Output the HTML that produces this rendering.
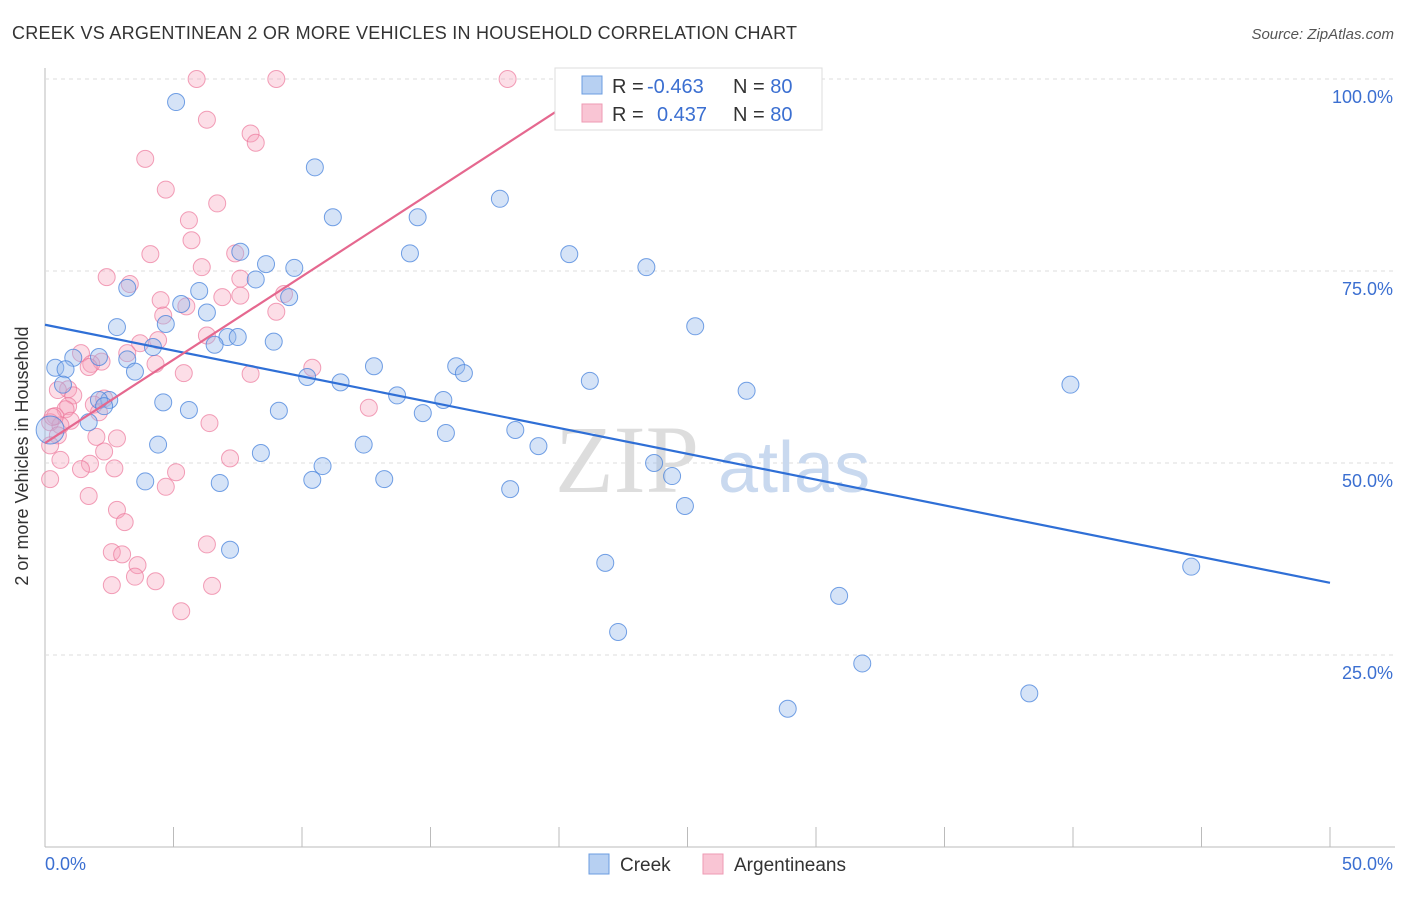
<!DOCTYPE html>
<html><head><meta charset="utf-8"><style>
body{margin:0;background:#fff;font-family:"Liberation Sans",sans-serif;}
</style></head><body>
<svg id="c" width="1406" height="892" xmlns="http://www.w3.org/2000/svg">
<text x="12" y="39" font-size="18" fill="#333" textLength="785">CREEK VS ARGENTINEAN 2 OR MORE VEHICLES IN HOUSEHOLD CORRELATION CHART</text>
<text x="1394" y="39" font-size="15" fill="#555" font-style="italic" text-anchor="end">Source: ZipAtlas.com</text>
<g id="grid"></g>
<text x="555" y="492" font-size="96" fill="#ddd" font-family="Liberation Serif,serif">ZIP</text>
<text x="718" y="492" font-size="72" fill="#c9d9ef">atlas</text>
<g id="pts"></g>
<g id="lines"></g>
<text x="28" y="456" font-size="18" fill="#333" text-anchor="middle" transform="rotate(-90 28 456)">2 or more Vehicles in Household</text>
<g>
<rect x="555" y="68" width="267" height="62" fill="#fff" stroke="#ddd"/>
<rect x="582" y="76" width="20" height="18" fill="#b7d0f2" stroke="#6b9ce0"/>
<rect x="582" y="104" width="20" height="18" fill="#f9c5d4" stroke="#ee9ab3"/>
<text x="612" y="93" font-size="20" fill="#333">R = <tspan x="647" fill="#3b6fd1">-0.463</tspan><tspan x="733">N = </tspan><tspan fill="#3b6fd1">80</tspan></text>
<text x="612" y="121" font-size="20" fill="#333">R = <tspan x="657" fill="#3b6fd1">0.437</tspan><tspan x="733">N = </tspan><tspan fill="#3b6fd1">80</tspan></text>
</g>
<g>
<rect x="589" y="854" width="20" height="20" fill="#b7d0f2" stroke="#6b9ce0"/>
<text x="620" y="871" font-size="19" fill="#333">Creek</text>
<rect x="703" y="854" width="20" height="20" fill="#f9c5d4" stroke="#ee9ab3"/>
<text x="734" y="871" font-size="19" fill="#333">Argentineans</text>
</g>
</svg>
<script>
const xTicks=[0,5,10,15,20,25,30,35,40,45,50];
const yTicks=[25,50,75,100];
const yTickLabels=["25.0%","50.0%","75.0%","100.0%"];
const creekX=[5.1,10.5,17.7,11.2,14.5,14.2,20.4,23.4,8.6,9.7,7.6,8.2,3.2,9.5,5.3,6.0,6.3,4.7,2.8,25.3,7.1,7.5,6.6,8.9,4.2,3.2,2.1,1.1,0.4,0.8,3.5,0.7,12.8,16.0,16.3,10.2,11.5,21.2,39.9,27.3,13.7,15.5,2.5,2.1,2.3,4.6,5.6,9.1,14.7,1.7,15.6,18.3,4.4,12.4,19.2,8.4,23.7,10.8,24.4,10.4,3.9,13.2,6.8,18.1,24.9,7.2,21.8,44.6,30.9,22.3,31.8,38.3,28.9,0.2];
const creekY=[97,88.5,84.4,82,82,77.3,77.2,75.5,75.9,75.4,77.5,73.9,72.8,71.6,70.7,72.4,69.6,68.1,67.7,67.8,66.4,66.4,65.4,65.8,65.1,63.5,63.8,63.7,62.4,62.2,61.9,60.2,62.6,62.6,61.7,61.2,60.5,60.7,60.2,59.4,58.8,58.2,58.2,58.2,57.4,57.9,56.9,56.8,56.5,55.3,53.9,54.3,52.4,52.4,52.2,51.3,50.0,49.6,48.3,47.8,47.6,47.9,47.4,46.6,44.4,38.7,37.0,36.5,32.7,28.0,23.9,20.0,18.0,54.3];
const argX=[5.9,9.0,18.0,6.3,8.0,8.2,3.9,4.7,6.7,5.6,5.7,4.1,7.4,6.1,2.4,3.3,7.6,6.9,7.6,9.3,4.5,5.5,9.0,4.6,6.3,4.4,3.7,3.2,1.4,2.2,1.8,1.7,4.3,5.4,10.4,8.0,0.9,0.5,1.1,2.3,1.9,0.9,12.6,0.8,2.1,0.4,1.0,0.2,6.4,0.6,2.8,2.0,2.3,7.2,1.75,1.4,2.7,5.1,0.2,4.7,1.7,2.8,3.1,6.3,2.6,3.0,3.6,3.5,4.3,6.5,2.6,5.3,0.3,0.5,0.2,0.6];
const argY=[100,100,100,94.7,92.9,91.7,89.6,85.6,83.8,81.6,79,77.2,77.3,75.5,74.2,73.3,74,71.6,71.8,72,71.2,70.4,69.7,69.2,66.6,66,65.6,64.3,64.3,63.2,62.9,62.5,62.9,61.7,62.4,61.6,59.6,59.5,58.8,58.4,57.6,57.4,57.2,57.0,56.6,56.1,55.5,55.3,55.2,54.9,53.2,53.4,51.5,50.6,49.9,49.2,49.3,48.8,47.9,46.9,45.7,43.9,42.3,39.4,38.4,38.1,36.7,35.2,34.6,34.0,34.1,30.7,56.0,53.6,52.3,50.4];
const trendCreek=[68.0,34.4];
const trendArg=[52.6,96.0,20];
const X0=45,X1=1330,Y100=79,Y0=847;
const sx=v=>X0+(v/50)*(X1-X0);
const sy=v=>Y0-(v/100)*(Y0-Y100);
const NS="http://www.w3.org/2000/svg";
function mk(t,a,p){const e=document.createElementNS(NS,t);for(const k in a)e.setAttribute(k,a[k]);p.appendChild(e);return e;}
const g=document.getElementById('grid');
const ax=mk('line',{x1:X0,y1:68,x2:X0,y2:847,stroke:'#bbb'},g);


const bx=mk('line',{x1:X0,y1:847,x2:1395,y2:847,stroke:'#bbb'},g);


yTicks.forEach((v,i)=>{
 const l=mk('line',{x1:X0,y1:sy(v),x2:1395,y2:sy(v),stroke:'#ddd','stroke-dasharray':'4,4'},g);
 
 
 const t=mk('text',{x:1393,y:sy(v)+24,'font-size':18,fill:'#3b6fd1','text-anchor':'end'},g);
 t.textContent=yTickLabels[i];
 
 
});
xTicks.forEach(v=>{
 const l=mk('line',{x1:sx(v),y1:827,x2:sx(v),y2:847,stroke:'#bbb'},g);
 
 
});
[[0,'0.0%','start',45],[50,'50.0%','end',1393]].forEach(a=>{
 const t=mk('text',{x:a[3],y:870,'font-size':18,fill:'#3b6fd1','text-anchor':a[2]},g);
 t.textContent=a[1];
 
 
});
const P=document.getElementById('pts');
argX.forEach((x,i)=>{
 const c=mk('circle',{cx:sx(x),cy:sy(argY[i]),r:8.5,fill:'rgba(246,160,185,0.35)',stroke:'rgba(236,120,155,0.7)','stroke-width':1},P);
 
 
});
creekX.forEach((x,i)=>{
 const c=mk('circle',{cx:sx(x),cy:sy(creekY[i]),r:(i==creekX.length-1?14:8.5),fill:'rgba(150,185,235,0.4)',stroke:'rgba(70,130,220,0.75)','stroke-width':1},P);
 
 
});
const L=document.getElementById('lines');
const l1=mk('line',{x1:sx(0),y1:sy(trendCreek[0]),x2:sx(50),y2:sy(trendCreek[1]),stroke:'#2f6fd6','stroke-width':2.2},L);


const l2=mk('line',{x1:sx(0),y1:sy(trendArg[0]),x2:sx(trendArg[2]),y2:sy(trendArg[1]),stroke:'#e5688f','stroke-width':2.2},L);


</script>
</body></html>
